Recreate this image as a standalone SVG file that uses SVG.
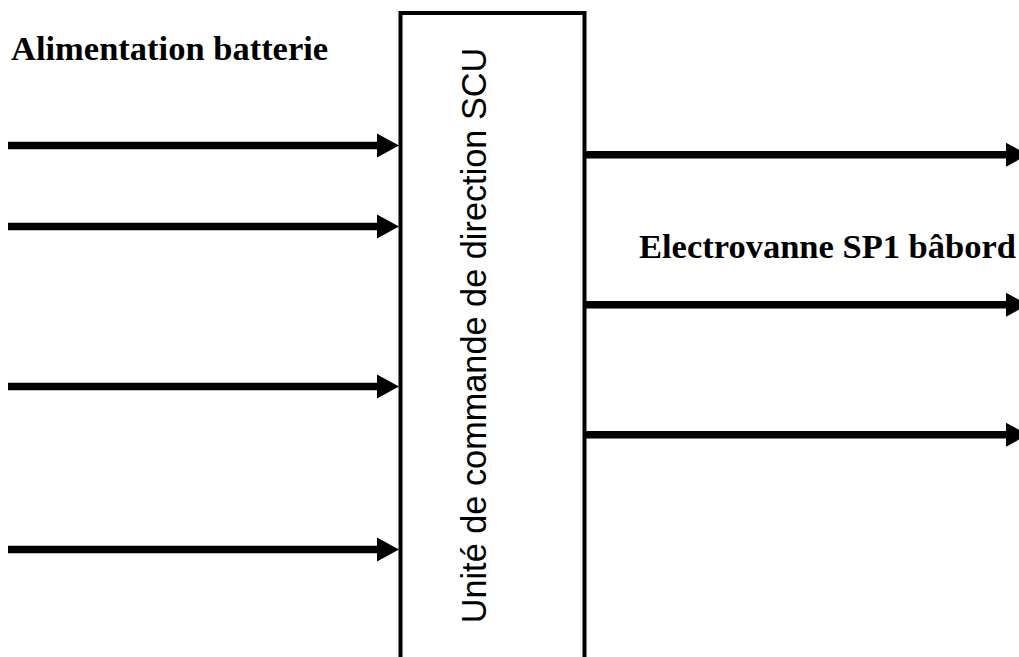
<svg xmlns="http://www.w3.org/2000/svg" width="1019" height="657" viewBox="0 0 1019 657">
<style>
.lbl{font-family:"Liberation Serif","Times New Roman",serif;font-weight:bold;font-size:34.5px;fill:#000}
.vt{font-family:"Liberation Sans",Arial,sans-serif;font-size:34.3px;fill:#000}
.box{fill:#fff;stroke:#000;stroke-width:4}
.wire{stroke:#000;stroke-width:7.5;fill:none;marker-end:url(#ah)}
</style>
<defs>
<marker id="ah" markerUnits="userSpaceOnUse" markerWidth="22" markerHeight="24" refX="0" refY="12" orient="auto" overflow="visible">
<path d="M0,0 L22,12 L0,24 Z" fill="#000"/>
</marker>
</defs>
<rect width="1019" height="657" fill="#fff"/>
<g id="connectors">
<line class="wire" x1="8" y1="145.5" x2="377" y2="145.5"/>
<line class="wire" x1="8" y1="226.5" x2="377" y2="226.5"/>
<line class="wire" x1="8" y1="386.5" x2="377" y2="386.5"/>
<line class="wire" x1="8" y1="549.5" x2="377" y2="549.5"/>
<line class="wire" x1="586" y1="154.7" x2="1006" y2="154.7"/>
<line class="wire" x1="586" y1="304.7" x2="1006" y2="304.7"/>
<line class="wire" x1="586" y1="434.7" x2="1006" y2="434.7"/>
</g>
<g id="scu">
<rect class="box" x="400.5" y="13" width="184" height="700"/>
<text class="vt" transform="translate(486,335.5) rotate(-90)" text-anchor="middle">Unité de commande de direction SCU</text>
</g>
<g id="label-batterie">
<text class="lbl" x="11" y="60">Alimentation batterie</text>
</g>
<g id="label-electrovanne">
<text class="lbl" x="639" y="258">Electrovanne SP1 bâbord</text>
</g>
</svg>
